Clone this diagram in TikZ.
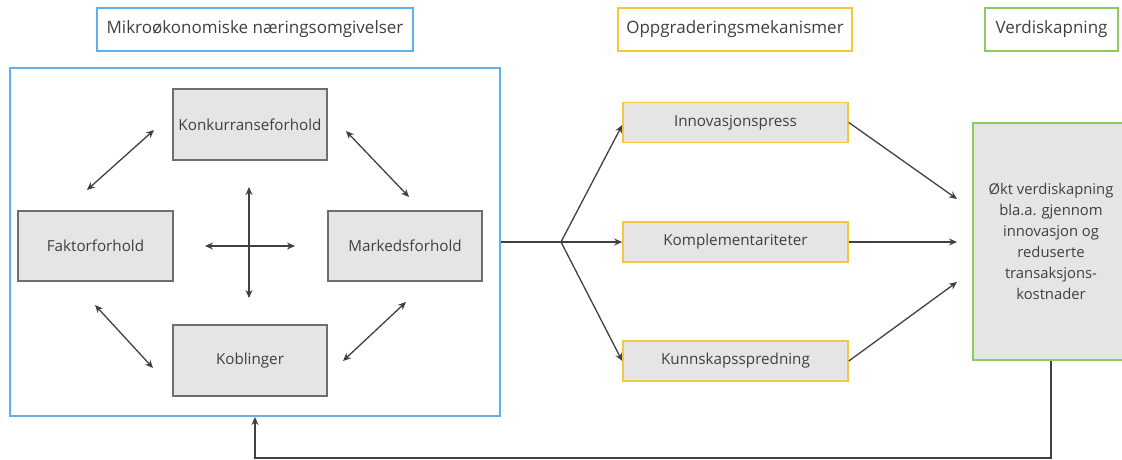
\documentclass[tikz,border=0pt]{standalone}
\usepackage{fontspec}
\setmainfont{Open Sans}
\usetikzlibrary{arrows.meta,calc}
\definecolor{txt}{HTML}{404040}
\definecolor{ln}{HTML}{404040}
\definecolor{boxgray}{HTML}{E5E5E5}
\definecolor{boxedge}{HTML}{6E6E6E}
\definecolor{mblue}{HTML}{62B0EA}
\definecolor{myellow}{HTML}{F5C83C}
\definecolor{mgreen}{HTML}{8DCB5F}
\begin{document}
\begin{tikzpicture}[x=1pt,y=-1pt,
  every node/.style={text=txt,inner sep=0pt},
  title/.style={draw,line width=1.4pt,fill=white,font=\fontsize{17}{20}\selectfont},
  factor/.style={draw=boxedge,fill=boxgray,line width=1.3pt,font=\fontsize{15.2}{18}\selectfont},
  mech/.style={draw=myellow,fill=boxgray,line width=1.6pt,minimum width=225pt,minimum height=40pt,font=\fontsize{15.2}{18}\selectfont},
  arr/.style={draw=ln,line width=1.3pt,-{Stealth[length=8pt,width=7pt]}},
  darr/.style={draw=ln,line width=1.3pt,{Stealth[length=8pt,width=7pt]}-{Stealth[length=8pt,width=7pt]}},
  plain/.style={draw=ln,line width=1.3pt}]
\useasboundingbox (0,0) rectangle (1122,460);

% column headings
\node[title,draw=mblue,minimum width=316pt,minimum height=43pt] (hmikro) at (255,29.5) {Mikroøkonomiske næringsomgivelser};
\node[title,draw=myellow,minimum width=234pt,minimum height=43pt] (hopp) at (735,29.5) {Oppgraderingsmekanismer};
\node[title,draw=mgreen,minimum width=133pt,minimum height=43pt] (hverdi) at (1051.5,29.5) {Verdiskapning};

% micro-economic environment
\node[draw=mblue,line width=2pt,minimum width=490pt,minimum height=348pt] (blue) at (255,242) {};
\node[factor,minimum width=154pt,minimum height=71pt] (konk) at (250,124.5) {Konkurranseforhold};
\node[factor,minimum width=155pt,minimum height=70pt] (fakt) at (95.5,246) {Faktorforhold};
\node[factor,minimum width=154pt,minimum height=70pt] (mark) at (405,246) {Markedsforhold};
\node[factor,minimum width=154pt,minimum height=71pt] (kobl) at (250,360.5) {Koblinger};

% relations between the four conditions
\coordinate (tl1) at (87,190);  \coordinate (tl2) at (154,130);
\coordinate (tr1) at (346,131); \coordinate (tr2) at (409,197);
\coordinate (bl1) at (95,305);  \coordinate (bl2) at (153,368);
\coordinate (br1) at (406,302); \coordinate (br2) at (343,361);
\coordinate (cxl) at (205,246); \coordinate (cxr) at (295,246);
\coordinate (cyt) at (249,187); \coordinate (cyb) at (249,298);
\draw[darr] (tl1) -- (tl2);
\draw[darr] (tr1) -- (tr2);
\draw[darr] (bl1) -- (bl2);
\draw[darr] (br1) -- (br2);
\draw[darr] (cxl) -- (cxr);
\draw[darr] (cyt) -- (cyb);

% upgrading mechanisms
\node[mech] (innov) at (735.5,122.5) {Innovasjonspress};
\node[mech] (kompl) at (735.5,242) {Komplementariteter};
\node[mech] (kunn) at (735.5,361) {Kunnskapsspredning};

\coordinate (split) at (561,242);
\draw[plain] (blue.east |- split) -- (split);
\draw[arr] (split) -- ($(innov.west)+(0,2.5)$);
\draw[arr] (split) -- (kompl.west);
\draw[arr] (split) -- (kunn.west);

% value creation
\node[draw=mgreen,fill=boxgray,line width=1.8pt,minimum width=156pt,minimum height=237pt,
      align=center,font=\fontsize{14.8}{21}\selectfont] (green) at (1051,241.5)
  {Økt verdiskapning\\bla.a. gjennom\\innovasjon og\\reduserte\\transaksjons-\\kostnader};

\coordinate (g1) at (957,199);
\coordinate (g2) at (957,242);
\coordinate (g3) at (957,282);
\draw[arr] (innov.east) -- (g1);
\draw[arr] (kompl.east) -- (g2);
\draw[arr] (kunn.east) -- (g3);

% feedback loop
\coordinate (fb) at (0,458);
\draw[arr] (green.south) -- (green.south |- fb) -| (blue.south);
\end{tikzpicture}
\end{document}
